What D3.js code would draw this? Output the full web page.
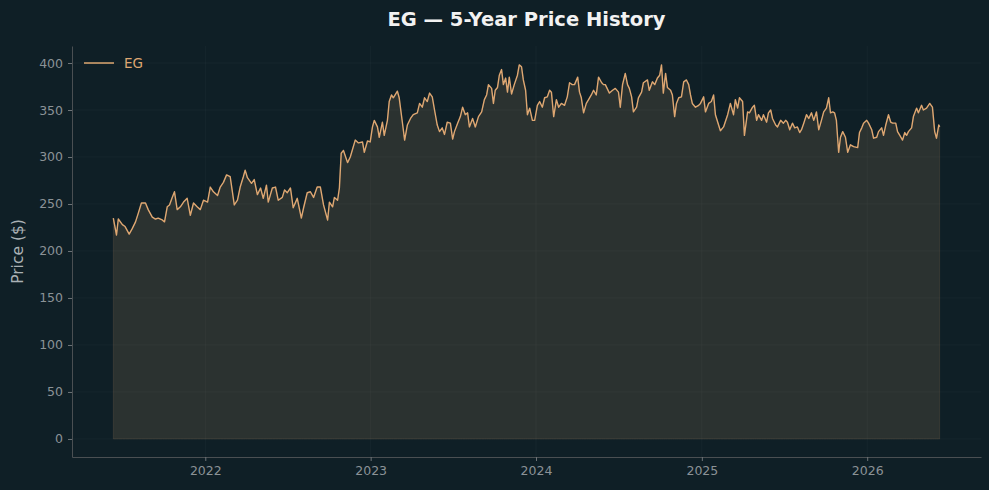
<!DOCTYPE html>
<html lang="en">
<head>
<meta charset="UTF-8">
<title>EG — 5-Year Price History</title>
<script src="https://cdn.jsdelivr.net/npm/d3@7"></script>
<style>
    body { margin: 0; background: #0f1f26; }
    svg { display: block; font-family: "DejaVu Sans", sans-serif; }
</style>
</head>
<body>
<div id="chart"></div>
<script>
    // ---- data ----
    const ticker = "EG";
    const startDate = "2021-06-12";
    // days since startDate for each sample
    const dayOffsets = [
        0, 7, 11, 20, 26, 35, 42, 49, 55, 62, 71, 77, 86, 93, 99, 108, 113, 119, 124, 130,
        135, 141, 148, 155, 163, 170, 177, 185, 192, 199, 208, 214, 221, 230, 236, 243, 250, 258, 267, 274,
        280, 287, 291, 296, 305, 311, 318, 325, 331, 338, 342, 351, 358, 364, 373, 378, 384, 391, 397, 406,
        415, 420, 428, 435, 442, 450, 457, 464, 473, 477, 484, 488, 495, 499, 503, 508, 517, 523, 534, 541,
        550, 554, 561, 567, 572, 576, 583, 587, 594, 598, 605, 609, 614, 618, 627, 631, 638, 643, 649, 656,
        662, 671, 676, 682, 687, 693, 698, 704, 709, 715, 720, 726, 731, 737, 744, 749, 753, 760, 766, 771,
        777, 782, 786, 793, 799, 806, 813, 819, 824, 828, 835, 839, 843, 848, 852, 857, 861, 866, 870, 874,
        879, 885, 892, 896, 901, 905, 910, 914, 919, 925, 930, 936, 941, 947, 952, 958, 963, 967, 972, 978,
        983, 989, 996, 1002, 1007, 1013, 1018, 1025, 1029, 1033, 1038, 1044, 1049, 1055, 1060, 1066, 1071, 1078, 1082, 1086,
        1095, 1102, 1108, 1115, 1119, 1124, 1130, 1135, 1139, 1144, 1148, 1155, 1159, 1166, 1170, 1179, 1183, 1190, 1195, 1201,
        1206, 1210, 1214, 1219, 1223, 1230, 1234, 1239, 1243, 1248, 1254, 1259, 1265, 1270, 1274, 1278, 1285, 1292, 1296, 1303,
        1307, 1314, 1320, 1325, 1329, 1336, 1340, 1347, 1356, 1362, 1369, 1373, 1378, 1382, 1389, 1393, 1400, 1404, 1411, 1415,
        1420, 1424, 1431, 1435, 1442, 1446, 1451, 1455, 1462, 1466, 1473, 1479, 1484, 1488, 1493, 1499, 1504, 1510, 1515, 1519,
        1524, 1530, 1535, 1541, 1546, 1552, 1557, 1563, 1568, 1574, 1579, 1583, 1588, 1592, 1596, 1601, 1605, 1610, 1616, 1621,
        1627, 1634, 1643, 1647, 1652, 1656, 1663, 1667, 1674, 1678, 1685, 1689, 1696, 1700, 1705, 1711, 1716, 1720, 1727, 1731,
        1736, 1742, 1747, 1751, 1755, 1762, 1766, 1773, 1777, 1784, 1788, 1795, 1802, 1808, 1813, 1817, 1822, 1824
    ];
    const prices = [
        235, 217, 234, 228, 226, 218, 224, 231, 240, 251, 251, 244, 236, 234, 235, 233, 231, 247, 249, 257,
        263, 244, 247, 252, 256, 238, 251, 247, 244, 254, 252, 268, 263, 259, 268, 273, 281, 279, 249, 254,
        268, 279, 286, 278, 272, 276, 260, 267, 256, 270, 252, 267, 268, 254, 257, 265, 262, 267, 246, 256,
        235, 246, 262, 263, 257, 268, 268, 249, 233, 252, 247, 257, 254, 267, 304, 307, 294, 300, 318, 315,
        316, 305, 317, 316, 332, 339, 332, 321, 337, 323, 339, 359, 366, 363, 370, 363, 337, 318, 334, 341,
        345, 347, 357, 353, 363, 359, 368, 364, 350, 334, 327, 331, 324, 337, 336, 319, 327, 336, 343, 353,
        345, 347, 332, 341, 332, 343, 348, 361, 366, 377, 373, 357, 371, 374, 387, 393, 377, 384, 369, 385,
        367, 377, 387, 398, 396, 382, 371, 345, 352, 339, 339, 355, 359, 353, 363, 364, 371, 369, 343, 361,
        353, 357, 355, 364, 379, 377, 377, 385, 369, 363, 347, 357, 361, 366, 371, 366, 385, 379, 377, 377,
        368, 371, 373, 369, 353, 377, 389, 377, 373, 364, 348, 353, 363, 369, 379, 382, 371, 380, 377, 384,
        387, 398, 368, 389, 374, 371, 366, 343, 357, 363, 364, 380, 382, 377, 366, 357, 353, 355, 357, 364,
        348, 357, 359, 366, 345, 334, 328, 332, 345, 357, 345, 361, 352, 363, 359, 323, 348, 347, 353, 355,
        339, 345, 339, 345, 337, 347, 350, 341, 334, 332, 339, 336, 339, 337, 329, 336, 331, 332, 326, 329,
        336, 345, 341, 347, 339, 348, 329, 339, 348, 352, 363, 347, 348, 347, 339, 305, 321, 327, 321, 305,
        313, 311, 310, 326, 331, 336, 339, 336, 329, 320, 321, 327, 331, 323, 334, 345, 337, 336, 336, 327,
        323, 318, 326, 323, 327, 331, 343, 352, 347, 355, 350, 352, 357, 353, 327, 320, 334, 332
    ];
    const yearTicks = [2022, 2023, 2024, 2025, 2026];
    const priceTicks = [0, 50, 100, 150, 200, 250, 300, 350, 400];

    // ---- layout ----
    const width = 989, height = 490;
    const margin = { top: 46, right: 8, bottom: 33, left: 72 };
    const lineColor = "#dea772";
    const tickColor = "#8b9296";

    const start = new Date(startDate + "T00:00:00");
    const series = dayOffsets.map((d, i) => ({ date: d3.timeDay.offset(start, d), price: prices[i] }));

    const svg = d3.select("#chart").append("svg")
        .attr("width", width).attr("height", height)
        .style("background", "#0f1f26");

    // x domain padded like matplotlib's 5% margin
    const xExtent = d3.extent(series, d => d.date);
    const pad = (xExtent[1] - xExtent[0]) * 0.05;
    const x = d3.scaleTime()
        .domain([new Date(+xExtent[0] - pad), new Date(+xExtent[1] + pad)])
        .range([margin.left, width - margin.right]);

    const y = d3.scaleLinear()
        .domain([-19.2, 418.1])
        .range([height - margin.bottom, margin.top]);

    // grid
    const grid = svg.append("g").attr("stroke", "#ffffff").attr("stroke-opacity", 0.045).attr("stroke-width", 0.8);
    grid.selectAll(".gy").data(priceTicks).enter().append("line")
        .attr("x1", margin.left).attr("x2", width - margin.right)
        .attr("y1", d => y(d)).attr("y2", d => y(d));
    grid.selectAll(".gx").data(yearTicks).enter().append("line")
        .attr("x1", d => x(new Date(d, 0, 1))).attr("x2", d => x(new Date(d, 0, 1)))
        .attr("y1", margin.top).attr("y2", height - margin.bottom);

    // area + line
    const area = d3.area().x(d => x(d.date)).y0(y(0)).y1(d => y(d.price));
    svg.append("path").datum(series)
        .attr("d", area)
        .attr("fill", lineColor).attr("fill-opacity", 0.14)
        .attr("stroke", lineColor).attr("stroke-opacity", 0.12).attr("stroke-width", 1);

    const line = d3.line().x(d => x(d.date)).y(d => y(d.price));
    svg.append("path").datum(series)
        .attr("d", line)
        .attr("fill", "none")
        .attr("stroke", lineColor)
        .attr("stroke-width", 1.4)
        .attr("stroke-linejoin", "round");

    // axes
    const yAxis = svg.append("g")
        .attr("transform", `translate(${margin.left},0)`)
        .call(d3.axisLeft(y).tickValues(priceTicks).tickSize(4).tickSizeOuter(0).tickPadding(5));
    const xAxis = svg.append("g")
        .attr("transform", `translate(0,${height - margin.bottom})`)
        .call(d3.axisBottom(x).tickValues(yearTicks.map(yr => new Date(yr, 0, 1)))
            .tickFormat(d3.timeFormat("%Y")).tickSize(4).tickSizeOuter(0).tickPadding(5));

    [yAxis, xAxis].forEach(ax => {
        ax.select(".domain").attr("stroke", "#4a4f52").attr("stroke-width", 1);
        ax.selectAll(".tick line").attr("stroke", "#6e7478");
        ax.selectAll(".tick text").attr("fill", tickColor)
            .style("font-family", "DejaVu Sans, sans-serif").style("font-size", "12.5px");
    });

    // labels
    svg.append("text")
        .attr("x", (margin.left + width - margin.right) / 2).attr("y", 26)
        .attr("text-anchor", "middle")
        .attr("fill", "#f2f2f2")
        .style("font-size", "19.5px").style("font-weight", "bold")
        .text(`${ticker} — 5-Year Price History`);

    svg.append("text")
        .attr("transform", `translate(23,${(margin.top + height - margin.bottom) / 2}) rotate(-90)`)
        .attr("text-anchor", "middle")
        .attr("fill", "#aab1b5")
        .style("font-size", "15.5px")
        .text("Price ($)");

    // legend
    const legend = svg.append("g").attr("transform", `translate(${margin.left + 12},${y(400)})`);
    legend.append("line").attr("x1", 0).attr("x2", 30).attr("y1", 0).attr("y2", 0)
        .attr("stroke", lineColor).attr("stroke-width", 1.5);
    legend.append("text").attr("x", 40).attr("y", 5)
        .attr("fill", lineColor).style("font-size", "13.5px")
        .text(ticker);
</script>
</body>
</html>
